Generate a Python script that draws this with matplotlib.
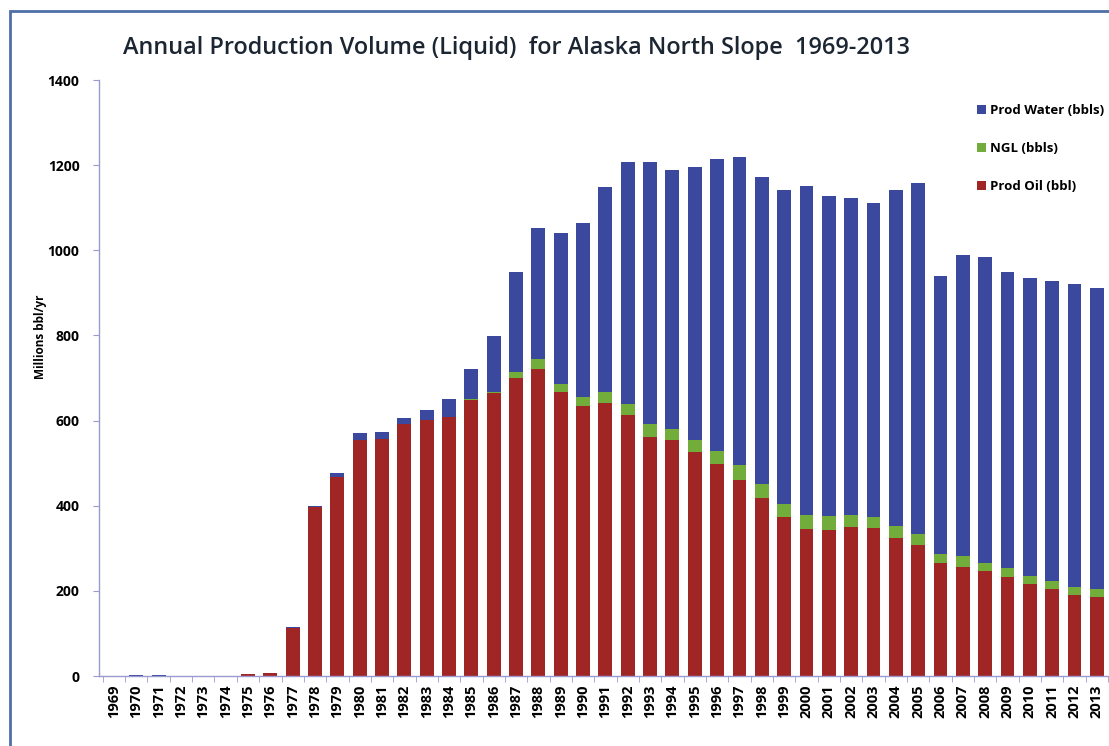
import numpy as np
import matplotlib
matplotlib.use('Agg')
import matplotlib.pyplot as plt
from matplotlib.patches import Rectangle

# Annual liquid production, Alaska North Slope (millions bbl/yr)
years = list(range(1969, 2014))
prod_oil = [0, 0, 0, 0, 0, 0, 4, 6, 112, 397, 468, 555, 557, 592, 601, 608, 648, 664,
            699, 720, 668, 634, 641, 613, 562, 554, 527, 498, 460, 417, 373, 345, 343,
            349, 347, 323, 308, 265, 257, 247, 232, 216, 204, 190, 185]
ngl = [0, 0, 0, 0, 0, 0, 0, 0, 0, 0, 0, 0, 0, 0, 0, 0, 2, 3,
       16, 24, 18, 22, 25, 26, 29, 26, 27, 31, 36, 34, 31, 33, 33,
       29, 26, 29, 26, 22, 25, 19, 21, 19, 18, 18, 19]
prod_water = [0, 3, 3, 0, 0, 0, 0, 0, 3, 3, 8, 15, 15, 15, 25, 43, 70, 132,
              235, 308, 354, 409, 482, 568, 616, 609, 642, 685, 724, 722, 738, 773, 752,
              744, 737, 790, 825, 653, 707, 719, 697, 701, 707, 712, 707]

plt.rcParams['font.family'] = ['Open Sans', 'DejaVu Sans']

fig = plt.figure(figsize=(11.09, 7.46), dpi=100)
ax = fig.add_axes([99 / 1109, 1 - 676 / 746, 1009 / 1109, 596 / 746])

x = np.arange(len(years))
oil = np.array(prod_oil)
gas = np.array(ngl)
water = np.array(prod_water)

w = 0.62
b_oil = ax.bar(x, oil, w, color='#a02626', label='Prod Oil (bbl)')
b_ngl = ax.bar(x, gas, w, bottom=oil, color='#72ad3c', label='NGL (bbls)')
b_wat = ax.bar(x, water, w, bottom=oil + gas, color='#3a489e', label='Prod Water (bbls)')

ax.set_xlim(-0.67, len(years) - 0.5)
ax.set_ylim(0, 1400)
ax.set_yticks(range(0, 1401, 200))
ax.set_xticks(x)
ax.set_xticklabels([str(y) for y in years], rotation=90, fontsize=10.5, fontweight='bold')
ax.set_xticks(np.arange(-0.5, len(years), 1), minor=True)
ax.tick_params(axis='x', which='major', length=0, pad=6)
ax.tick_params(axis='x', which='minor', length=4, color='#9a9ad0')
ax.tick_params(axis='y', length=4, color='#9a9ad0', pad=10)
for lbl in ax.get_yticklabels():
    lbl.set_fontsize(10)
    lbl.set_fontweight('bold')

for s in ['top', 'right']:
    ax.spines[s].set_visible(False)
for s in ['left', 'bottom']:
    ax.spines[s].set_color('#9a9ad0')
    ax.spines[s].set_linewidth(1)

ax.set_ylabel('Millions bbl/yr', fontsize=8.5, fontweight='bold')
ax.yaxis.set_label_coords(-0.052, 0.57)

fig.text(123 / 1109, 1 - 48 / 746, 'Annual Production Volume (Liquid)  for Alaska North Slope  1969-2013',
         fontsize=16.9, fontweight='semibold', color='#1c2633', va='center', ha='left')

ax.legend(handles=[b_wat, b_ngl, b_oil], loc='upper left',
          bbox_to_anchor=(965 / 1109, 1 - 92 / 746), bbox_transform=fig.transFigure,
          frameon=False, prop={'size': 9.5, 'weight': 'bold'},
          handlelength=0.7, handleheight=0.7, handletextpad=0.3, labelspacing=1.9)

# outer frame of the chart area
fig.patches.append(Rectangle((10 / 1109, -0.05), 1.2, 1 - 11 / 746 + 0.05,
                             transform=fig.transFigure, fill=False,
                             edgecolor='#4f6fa8', linewidth=2))

fig.savefig('out.png', dpi=100)
